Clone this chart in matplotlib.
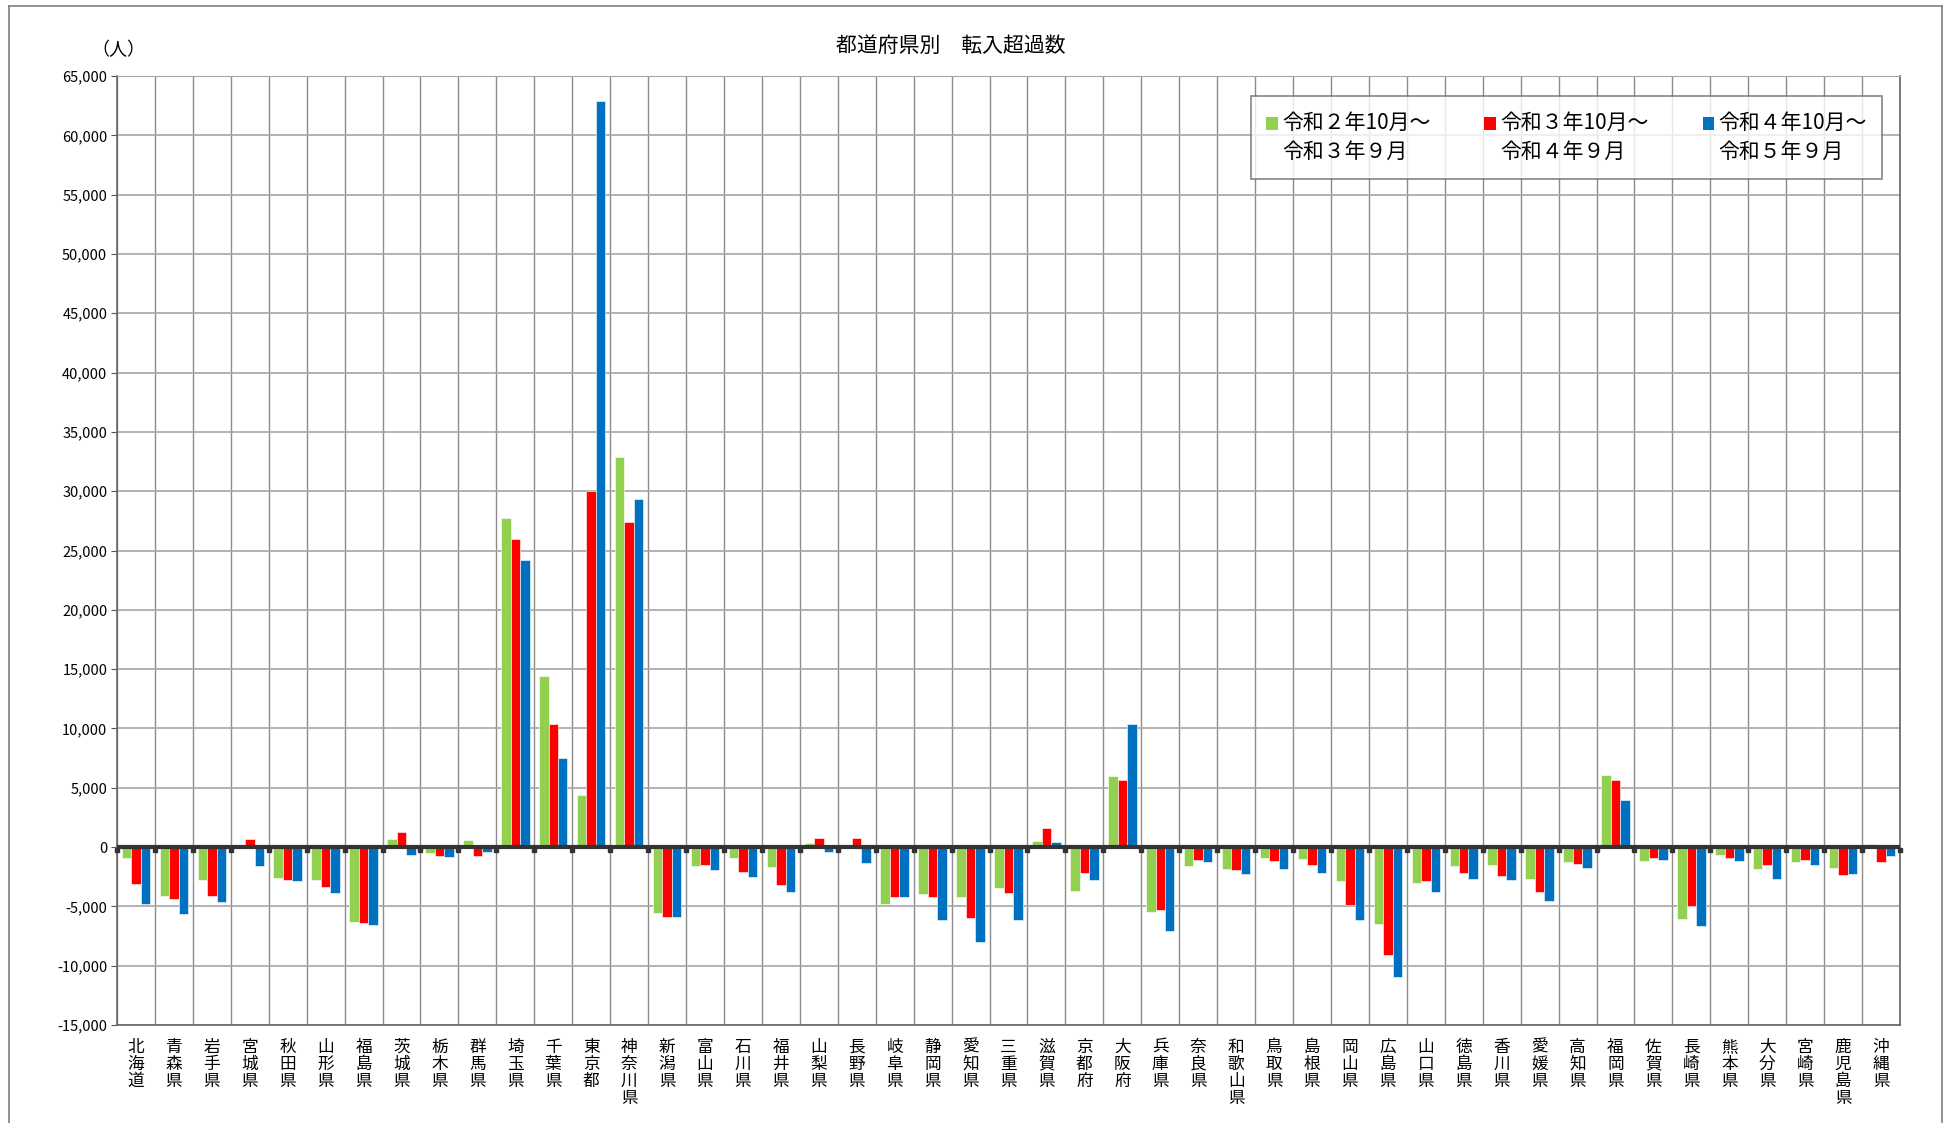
import matplotlib
matplotlib.use("Agg")
import matplotlib.pyplot as plt
import numpy as np
from matplotlib.patches import Patch
from matplotlib.lines import Line2D

plt.rcParams["font.family"] = ["Noto Sans CJK JP", "DejaVu Sans"]

# --------------------------------------------------------------------------- #
# data
# --------------------------------------------------------------------------- #
prefectures = [
    "北海道", "青森県", "岩手県", "宮城県", "秋田県", "山形県", "福島県",
    "茨城県", "栃木県", "群馬県", "埼玉県", "千葉県", "東京都", "神奈川県",
    "新潟県", "富山県", "石川県", "福井県", "山梨県", "長野県", "岐阜県",
    "静岡県", "愛知県", "三重県", "滋賀県", "京都府", "大阪府", "兵庫県",
    "奈良県", "和歌山県", "鳥取県", "島根県", "岡山県", "広島県", "山口県",
    "徳島県", "香川県", "愛媛県", "高知県", "福岡県", "佐賀県", "長崎県",
    "熊本県", "大分県", "宮崎県", "鹿児島県", "沖縄県",
]

# 令和2年10月～令和3年9月
r2 = [-900, -4160, -2750, -100, -2640, -2780, -6320,
      700, -530, 620, 27740, 14390, 4360, 32900,
      -5600, -1600, -890, -1690, 330, 100, -4820,
      -3960, -4200, -3460, 530, -3730, 5970, -5490,
      -1580, -1890, -900, -1010, -2870, -6510, -3010,
      -1630, -1520, -2730, -1300, 6110, -1150, -6030,
      -680, -1890, -1270, -1750, 280]
# 令和3年10月～令和4年9月
r3 = [-3090, -4380, -4160, 650, -2810, -3370, -6380,
      1260, -760, -790, 25970, 10370, 30020, 27380,
      -5920, -1480, -2100, -3170, 800, 800, -4230,
      -4230, -5950, -3900, 1630, -2190, 5640, -5300,
      -1130, -1940, -1210, -1550, -4850, -9070, -2850,
      -2170, -2420, -3800, -1440, 5630, -900, -4990,
      -930, -1520, -1130, -2390, -1270]
# 令和4年10月～令和5年9月
r4 = [-4830, -5620, -4640, -1600, -2840, -3850, -6580,
      -670, -840, -420, 24230, 7540, 62900, 29320,
      -5920, -1920, -2540, -3760, -380, -1330, -4230,
      -6150, -7990, -6120, 440, -2810, 10400, -7100,
      -1240, -2230, -1860, -2170, -6140, -10930, -3750,
      -2680, -2790, -4560, -1770, 3940, -1130, -6680,
      -1180, -2680, -1520, -2250, -790]

series_labels = ["令和２年10月～\n令和３年９月",
                 "令和３年10月～\n令和４年９月",
                 "令和４年10月～\n令和５年９月"]
colors = ["#92D050", "#FF0000", "#0070C0"]

# --------------------------------------------------------------------------- #
# figure
# --------------------------------------------------------------------------- #
fig = plt.figure(figsize=(19.52, 11.23), dpi=100)
ax = fig.add_axes([117 / 1952, 1 - 1025 / 1123, 1783 / 1952, 949 / 1123])

x = np.arange(len(prefectures))
w = 0.25
for k, (vals, c) in enumerate(zip([r2, r3, r4], colors)):
    ax.bar(x + (k - 1) * w, vals, width=w, color=c, edgecolor="white",
           linewidth=0.4, zorder=3)

ax.set_xlim(-0.5, len(prefectures) - 0.5)
ax.set_ylim(-15000, 65000)
ax.set_yticks(np.arange(-15000, 65001, 5000))
ax.set_yticklabels([f"{v:,}" for v in range(-15000, 65001, 5000)], fontsize=10.5)
ax.tick_params(axis="y", length=4, color="#555555", pad=3)

ax.set_xticks(x)
ax.set_xticklabels(["\n".join(p) for p in prefectures], fontsize=12,
                   linespacing=1.0, va="top")
ax.tick_params(axis="x", length=0, pad=10)
ax.set_xticks(np.arange(-0.5, len(prefectures), 1.0), minor=True)
ax.tick_params(axis="x", which="minor", length=0)

ax.grid(axis="y", color="#a6a6a6", linewidth=1.2, zorder=0)
ax.grid(axis="x", which="minor", color="#8c8c8c", linewidth=1.0, zorder=0)
ax.set_axisbelow(True)

for side in ["left", "bottom", "right"]:
    ax.spines[side].set_color("#666666")
    ax.spines[side].set_linewidth(1.2)
ax.spines["top"].set_color("#a6a6a6")

# zero line with small marks at the category boundaries
ax.axhline(0, color="#333333", linewidth=3, zorder=4)
bounds = np.arange(-0.5, len(prefectures), 1.0)
ax.plot(bounds, np.full(len(bounds), -220), "s", color="#333333", ms=3,
        zorder=4, clip_on=False)

handles = [Patch(facecolor=c, edgecolor="none") for c in colors]
leg = ax.legend(handles, series_labels, ncol=3, loc="upper right",
                bbox_to_anchor=(0.99, 0.979), borderaxespad=0, fontsize=15,
                frameon=True, fancybox=False, handlelength=0.55,
                handleheight=0.55, handletextpad=0.2, columnspacing=2.6,
                borderpad=0.75)
leg.get_frame().set_edgecolor("#666666")
leg.get_frame().set_linewidth(1.2)
for t in leg.get_texts():
    t.set_linespacing(1.45)
for h in leg.legend_handles:
    h.set_y(h.get_y() + 11)

fig.text(0.487, 1 - 46 / 1123, "都道府県別　転入超過数", ha="center", va="center",
         fontsize=15)
fig.text(118 / 1952, 1 - 50 / 1123, "（人）", ha="center", va="center",
         fontsize=13)

# outer chart frame
for xs, ys in [([9, 9], [0, 1117]), ([9, 1942], [1117, 1117]),
               ([1942, 1942], [1117, 0])]:
    fig.add_artist(Line2D([v / 1952 for v in xs], [v / 1123 for v in ys],
                          color="#7f7f7f", linewidth=1.2))

fig.savefig("out.png", dpi=100, facecolor="white")
